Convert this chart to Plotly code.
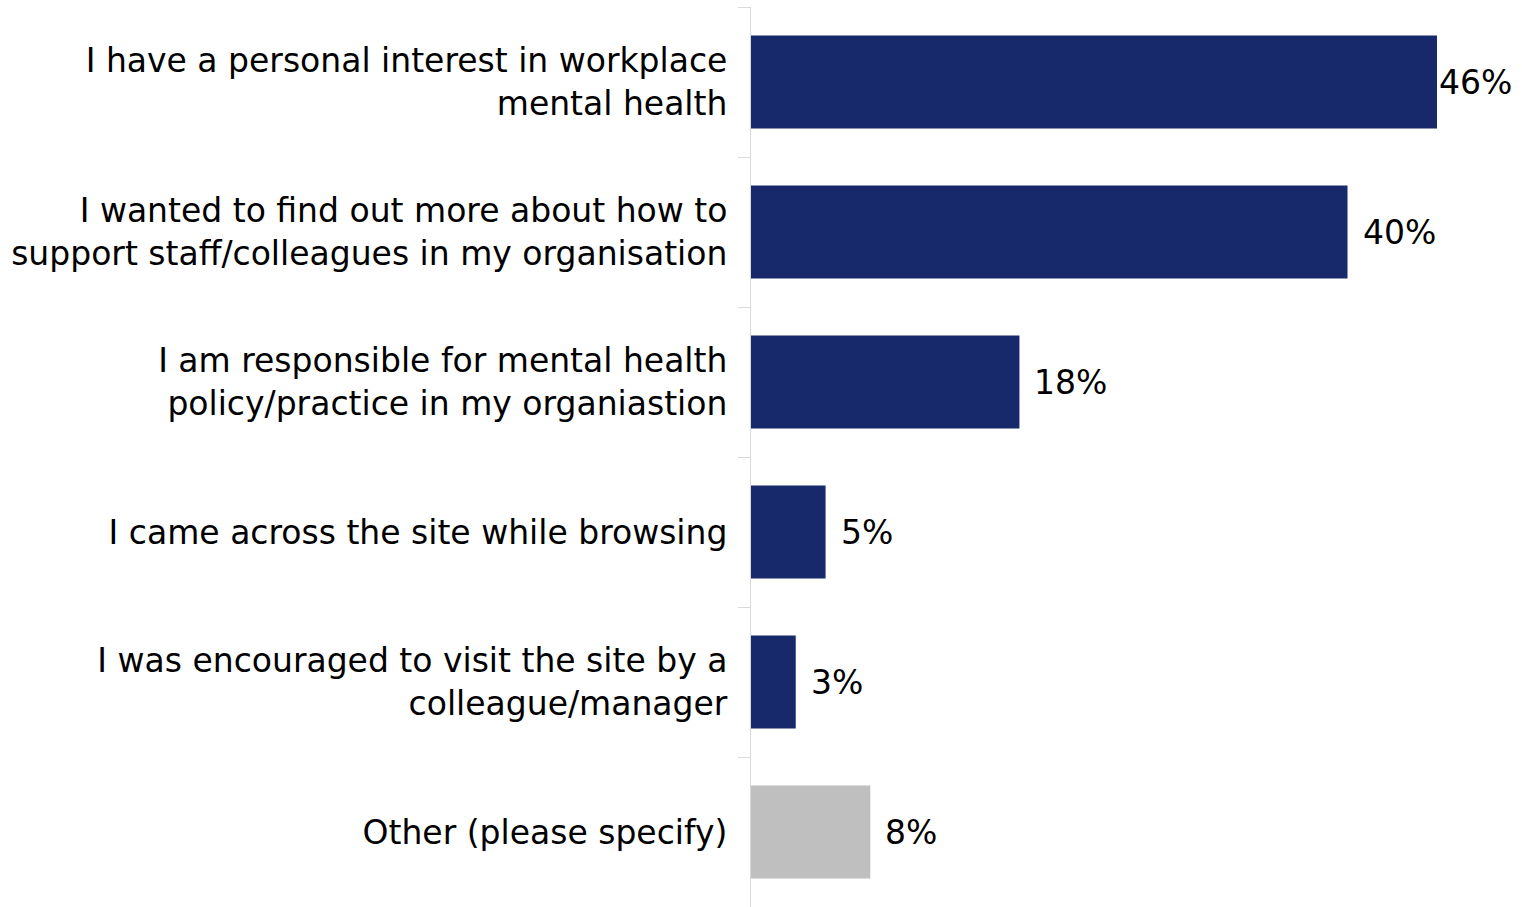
import plotly.graph_objects as go

# Reasons for visiting the site (share of respondents, %)
categories = [
    "I have a personal interest in workplace<br>mental health",
    "I wanted to find out more about how to<br>support staff/colleagues in my organisation",
    "I am responsible for mental health<br>policy/practice in my organiastion",
    "I came across the site while browsing",
    "I was encouraged to visit the site by a<br>colleague/manager",
    "Other (please specify)",
]
values = [46, 40, 18, 5, 3, 8]
value_labels = ["46%", "40%", "18%", "5%", "3%", "8%"]

NAVY = "#17296a"
GREY = "#bfbfbf"
bar_colors = [NAVY, NAVY, NAVY, NAVY, NAVY, GREY]
label_shift = [0, 13, 13, 13, 13, 13]

FONT = "DejaVu Sans"
SIZE = 33

fig = go.Figure(
    go.Bar(
        x=values,
        y=categories,
        orientation="h",
        marker=dict(color=bar_colors, line=dict(width=0)),
        width=0.62,
        hoverinfo="skip",
    )
)

for cat, val, lab, dx in zip(categories, values, value_labels, label_shift):
    fig.add_annotation(
        x=val, y=cat, text=lab, showarrow=False,
        xanchor="left", yanchor="middle", xshift=dx,
        font=dict(family=FONT, size=SIZE, color="#000000"),
    )

fig.update_layout(
    width=1522, height=907,
    margin=dict(l=751, r=0, t=7, b=0),
    paper_bgcolor="white", plot_bgcolor="white",
    showlegend=False,
    font=dict(family=FONT, size=SIZE, color="#000000"),
)
fig.update_xaxes(
    range=[0, 51.7], visible=False, showgrid=False, zeroline=False,
)
fig.update_yaxes(
    autorange="reversed", automargin=False,
    showline=True, linecolor="#d9d9d9", linewidth=1,
    ticks="outside", tickson="boundaries", ticklen=12, tickcolor="#d9d9d9",
    showgrid=False, zeroline=False,
    tickfont=dict(family=FONT, size=SIZE, color="#000000"),
    ticklabelstandoff=16,
)

fig.write_html("out.html")
